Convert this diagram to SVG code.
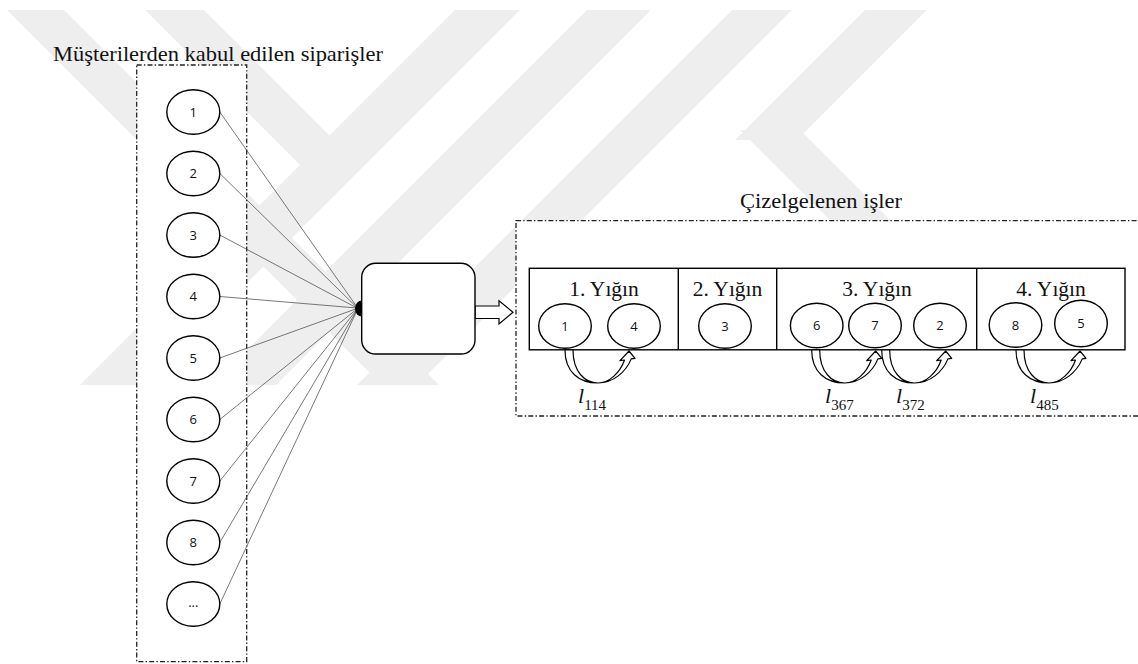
<svg xmlns="http://www.w3.org/2000/svg" xmlns:xlink="http://www.w3.org/1999/xlink" width="1138" height="664" viewBox="0 0 1138 664">
<defs>
<style>
.wm{fill:#eeeeee}
.dash{fill:#fff;stroke:#222;stroke-width:1.3;stroke-dasharray:5 2.2 1.4 2.2}
.node{fill:#fff;stroke:#000;stroke-width:1.4}
.num{font-family:"Open Sans","Noto Sans",sans-serif;font-size:13px;fill:#111;text-anchor:middle}
.title{font-family:"Liberation Serif","Times New Roman",serif;font-size:22px;fill:#111}
.hdr{font-family:"Liberation Serif","Times New Roman",serif;font-size:21.5px;fill:#111;text-anchor:middle}
.link{stroke:#555;stroke-width:0.8;fill:none}
.carrow{fill:#fff;stroke:#000;stroke-width:1.2;stroke-linejoin:round}
.lab{font-family:"Liberation Serif","Times New Roman",serif;font-style:italic;font-size:22px;fill:#111}
.sub{font-family:"Liberation Serif","Times New Roman",serif;font-size:15px;fill:#111}
</style>
<path id="carr" class="carrow" d="M0,350 C0,372 14,383 33,383 C48,383 61,372 66.2,358.9 L70,358.3 L64,351 L55,360.7 L59.5,360 C55,373 44,383 33,383 C20,383 8,372 8,350 Z"/>
</defs>
<rect width="1138" height="664" fill="#fff"/>
<g id="watermark">
<polygon class="wm" points="7,10 64,10 439,385 382,385"/>
<polygon class="wm" points="145,10 204,10 329.5,135.5 332.5,197.5"/>
<polygon class="wm" points="455,10 520,10 145,385 80,385"/>
<polygon class="wm" points="587,10 651,10 276,385 212,385"/>
<polygon class="wm" points="732,10 792,10 417,385 357,385"/>
<polygon class="wm" points="865,10 927,10 797,140 735,140"/>
<polygon class="wm" points="740,130 800,130 1055,385 995,385"/>
</g>
<g id="title-orders"><text class="title" x="53" y="60.5" textLength="330" lengthAdjust="spacingAndGlyphs">Müşterilerden kabul edilen siparişler</text></g>
<g id="orders-box"><rect class="dash" x="136.7" y="65" width="110" height="596.7"/></g>
<g id="connectors">
<line class="link" x1="219.8" y1="112" x2="357" y2="307"/>
<line class="link" x1="219.8" y1="173.5" x2="357" y2="307.5"/>
<line class="link" x1="219.8" y1="235" x2="357" y2="308"/>
<line class="link" x1="219.8" y1="296.5" x2="357" y2="308"/>
<line class="link" x1="219.8" y1="358" x2="357" y2="308.5"/>
<line class="link" x1="219.8" y1="419.5" x2="357" y2="309"/>
<line class="link" x1="219.8" y1="481" x2="357" y2="309.5"/>
<line class="link" x1="219.8" y1="542.5" x2="357" y2="310"/>
<line class="link" x1="219.8" y1="604" x2="357" y2="310.5"/>
<path d="M475,306 L499,306 L499,300.7 L513,312.3 L499,324 L499,318.5 L475,318.5 Z" fill="#fff" stroke="#000" stroke-width="1.2" stroke-linejoin="miter"/>
</g>
<g id="o1"><ellipse class="node" cx="193.3" cy="112" rx="26.5" ry="22.3"/><text class="num" x="193.3" y="116.7">1</text></g>
<g id="o2"><ellipse class="node" cx="193.3" cy="173.5" rx="26.5" ry="22.3"/><text class="num" x="193.3" y="178.2">2</text></g>
<g id="o3"><ellipse class="node" cx="193.3" cy="235" rx="26.5" ry="22.3"/><text class="num" x="193.3" y="239.7">3</text></g>
<g id="o4"><ellipse class="node" cx="193.3" cy="296.5" rx="26.5" ry="22.3"/><text class="num" x="193.3" y="301.2">4</text></g>
<g id="o5"><ellipse class="node" cx="193.3" cy="358" rx="26.5" ry="22.3"/><text class="num" x="193.3" y="362.7">5</text></g>
<g id="o6"><ellipse class="node" cx="193.3" cy="419.5" rx="26.5" ry="22.3"/><text class="num" x="193.3" y="424.2">6</text></g>
<g id="o7"><ellipse class="node" cx="193.3" cy="481" rx="26.5" ry="22.3"/><text class="num" x="193.3" y="485.7">7</text></g>
<g id="o8"><ellipse class="node" cx="193.3" cy="542.5" rx="26.5" ry="22.3"/><text class="num" x="193.3" y="547.2">8</text></g>
<g id="o9"><ellipse class="node" cx="193.3" cy="604" rx="26.5" ry="22.3"/><text class="num" x="193.3" y="607">...</text></g>
<g id="scheduler">
<rect x="361.7" y="263.3" width="113.3" height="90.7" rx="14" fill="#fff" stroke="#000" stroke-width="1.4"/>
<path d="M362,300.5 A7 8 0 0 0 362,316.5 Z" fill="#000"/>
</g>
<g id="title-scheduled"><text class="title" x="740" y="208" textLength="162" lengthAdjust="spacingAndGlyphs">Çizelgelenen işler</text></g>
<g id="scheduled-box"><rect class="dash" x="516" y="220.7" width="640" height="195.3"/></g>
<g id="batches">
<rect x="529.3" y="268.3" width="595.7" height="81.5" fill="#fff" stroke="#000" stroke-width="1.4"/>
<line x1="678.3" y1="268.3" x2="678.3" y2="349.8" stroke="#000" stroke-width="1.4"/>
<line x1="776.7" y1="268.3" x2="776.7" y2="349.8" stroke="#000" stroke-width="1.4"/>
<line x1="976.7" y1="268.3" x2="976.7" y2="349.8" stroke="#000" stroke-width="1.4"/>
<text class="hdr" x="604" y="296">1. Yığın</text>
<text class="hdr" x="727.5" y="296">2. Yığın</text>
<text class="hdr" x="877" y="296">3. Yığın</text>
<text class="hdr" x="1051" y="296">4. Yığın</text>
</g>
<g id="j1"><ellipse class="node" cx="565" cy="326" rx="26.3" ry="22.3"/><text class="num" x="565" y="330.7">1</text></g>
<g id="j4"><ellipse class="node" cx="634" cy="326" rx="26.3" ry="22.3"/><text class="num" x="634" y="330.7">4</text></g>
<g id="j3"><ellipse class="node" cx="725" cy="326" rx="26.3" ry="22.3"/><text class="num" x="725" y="330.7">3</text></g>
<g id="j6"><ellipse class="node" cx="816.7" cy="325.5" rx="26.3" ry="22.3"/><text class="num" x="816.7" y="330.2">6</text></g>
<g id="j7"><ellipse class="node" cx="875" cy="325.5" rx="26.3" ry="22.3"/><text class="num" x="875" y="330.2">7</text></g>
<g id="j2"><ellipse class="node" cx="940" cy="325.5" rx="26.3" ry="22.3"/><text class="num" x="940" y="330.2">2</text></g>
<g id="j8"><ellipse class="node" cx="1015.5" cy="325" rx="26.3" ry="22.3"/><text class="num" x="1015.5" y="329.7">8</text></g>
<g id="j5"><ellipse class="node" cx="1081" cy="323.5" rx="26.3" ry="23.3"/><text class="num" x="1081" y="328.2">5</text></g>
<g id="setup-arrows">
<use xlink:href="#carr" x="565"/>
<use xlink:href="#carr" x="811.7"/>
<use xlink:href="#carr" x="881.7"/>
<use xlink:href="#carr" x="1016"/>
</g>
<g id="labels">
<text x="578" y="403"><tspan class="lab">l</tspan><tspan class="sub" y="410">114</tspan></text>
<text x="825" y="403"><tspan class="lab">l</tspan><tspan class="sub" y="410">367</tspan></text>
<text x="896" y="403"><tspan class="lab">l</tspan><tspan class="sub" y="410">372</tspan></text>
<text x="1030" y="403"><tspan class="lab">l</tspan><tspan class="sub" y="410">485</tspan></text>
</g>
</svg>
